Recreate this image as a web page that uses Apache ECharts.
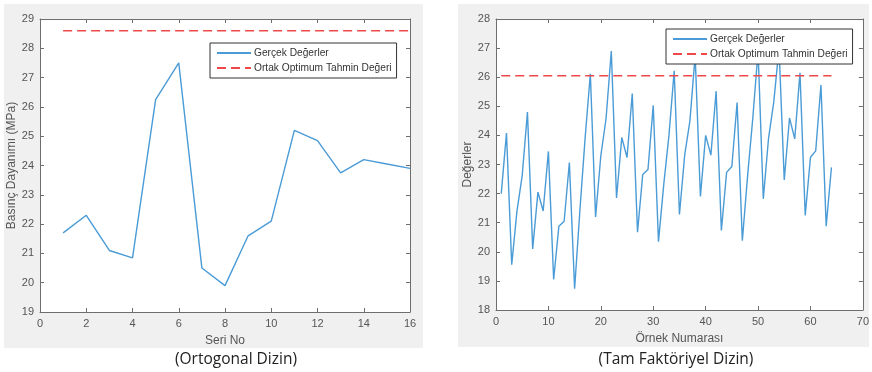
<!DOCTYPE html>
<html>
<head>
<meta charset="utf-8">
<script src="https://cdn.jsdelivr.net/npm/echarts@6/dist/echarts.min.js"></script>
<style>html,body{margin:0;padding:0;background:#fff;}#c{width:872px;height:372px;}</style>
</head>
<body>
<div id="c"></div>
<script>
// Left chart (Ortogonal Dizin)
const seriNo = [1,2,3,4,5,6,7,8,9,10,11,12,13,14,15,16];
const basincDayanimi = [21.7,22.3,21.1,20.85,26.25,27.5,20.5,19.9,21.6,22.1,25.2,24.85,23.75,24.2,24.05,23.9];
const ortakOptimumLeft = 28.6;

// Right chart (Tam Faktöriyel Dizin)
const degerler = [22.0,24.08,19.56,21.4,22.62,24.8,20.1,22.05,21.4,23.45,
  19.05,20.88,21.05,23.07,18.73,21.4,23.9,26.12,21.2,23.3,
  24.58,26.9,21.85,23.93,23.24,25.44,20.67,22.66,22.83,25.03,
  20.35,22.3,24.0,26.22,21.28,23.32,24.5,26.75,21.9,24.0,
  23.32,25.52,20.73,22.73,22.93,25.13,20.38,22.6,24.6,26.9,
  21.82,23.9,25.15,27.0,22.47,24.6,23.88,26.15,21.25,23.25,
  23.47,25.73,20.88,22.9];
const ortakOptimumRight = 26.05;

const names = ['Gerçek Değerler','Ortak Optimum Tahmin Değeri'];
const blue = '#4a9bd6', red = '#ee4848';
const font = "'Liberation Sans', Arial, sans-serif";

const ornekNo = degerler.map((v,i)=>i+1);
const leftData = seriNo.map((x,i)=>[x, basincDayanimi[i]]);
const rightData = ornekNo.map((x,i)=>[x, degerler[i]]);

function axisBase(min,max,interval){
  return {
    type:'value', min:min, max:max, interval:interval,
    axisLine:{show:true, onZero:false, lineStyle:{color:'#6e6e6e', width:1}},
    axisTick:{show:true, inside:true, length:4, lineStyle:{color:'#6e6e6e'}},
    axisLabel:{color:'#555', fontSize:11, fontFamily:font, margin:6},
    splitLine:{show:false},
    nameTextStyle:{color:'#555', fontSize:12, fontFamily:font}
  };
}
function mirror(a,pos){
  return Object.assign({}, a, {position:pos, axisLabel:{show:false}, name:''});
}

const lx = Object.assign(axisBase(0,16,2), {gridIndex:0, name:'Seri No', nameLocation:'middle', nameGap:23});
const ly = Object.assign(axisBase(19,29,1), {gridIndex:0, name:'Basınç Dayanımı (MPa)', nameLocation:'middle', nameGap:21});
const rx = Object.assign(axisBase(0,70,10), {gridIndex:1, name:'Örnek Numarası', nameLocation:'middle', nameGap:23});
const ry = Object.assign(axisBase(18,28,1), {gridIndex:1, name:'Değerler', nameLocation:'middle', nameGap:21});

const legendCommon = {
  data:names, orient:'vertical', itemWidth:34, itemHeight:10, itemGap:5,
  padding:[5,5,5,6], backgroundColor:'#fff', borderColor:'#333', borderWidth:1,
  itemStyle:{opacity:0},
  textStyle:{fontSize:10.2, fontFamily:font, color:'#333', padding:[0,0,0,-2]}, selectedMode:false
};

const chart = echarts.init(document.getElementById('c'), null, {renderer:'canvas'});
chart.setOption({
  animation:false,
  backgroundColor:'#ffffff',
  graphic:[
    {type:'rect', z:-10, silent:true, shape:{x:4,y:4,width:419,height:344}, style:{fill:'#f0f0f0'}},
    {type:'rect', z:-10, silent:true, shape:{x:458,y:4,width:411,height:343}, style:{fill:'#f0f0f0'}}
  ],
  title:[
    {text:'(Ortogonal Dizin)', left:231, textAlign:'center', top:347, textStyle:{fontFamily:'Open Sans', fontSize:15.5, fontWeight:'normal', color:'#222'}},
    {text:'(Tam Faktöriyel Dizin)', left:671, textAlign:'center', top:347, textStyle:{fontFamily:'Open Sans', fontSize:15.5, fontWeight:'normal', color:'#222'}}
  ],
  grid:[
    {left:40, top:19, width:370, height:293, show:true, backgroundColor:'#fff', borderWidth:0},
    {left:496, top:19, width:368, height:291, show:true, backgroundColor:'#fff', borderWidth:0}
  ],
  xAxis:[lx, rx, mirror(lx,'top'), mirror(rx,'top')],
  yAxis:[ly, ry, mirror(ly,'right'), mirror(ry,'right')],
  legend:[
    Object.assign({left:210, top:43}, legendCommon),
    Object.assign({left:666, top:29}, legendCommon)
  ],
  series:[
    {name:names[0], type:'line', xAxisIndex:0, yAxisIndex:0, data:leftData, symbol:'none',
     lineStyle:{color:blue, width:1.4}, itemStyle:{color:blue}},
    {name:names[1], type:'line', xAxisIndex:0, yAxisIndex:0, data:[[seriNo[0],ortakOptimumLeft],[seriNo[seriNo.length-1],ortakOptimumLeft]], symbol:'none',
     lineStyle:{color:red, width:1.4, type:[9,5]}, itemStyle:{color:red}},
    {name:names[0], type:'line', xAxisIndex:1, yAxisIndex:1, data:rightData, symbol:'none',
     lineStyle:{color:blue, width:1.4}, itemStyle:{color:blue}},
    {name:names[1], type:'line', xAxisIndex:1, yAxisIndex:1, data:[[ornekNo[0],ortakOptimumRight],[ornekNo[ornekNo.length-1],ortakOptimumRight]], symbol:'none',
     lineStyle:{color:red, width:1.4, type:[9,5]}, itemStyle:{color:red}}
  ]
});
</script>
</body>
</html>
